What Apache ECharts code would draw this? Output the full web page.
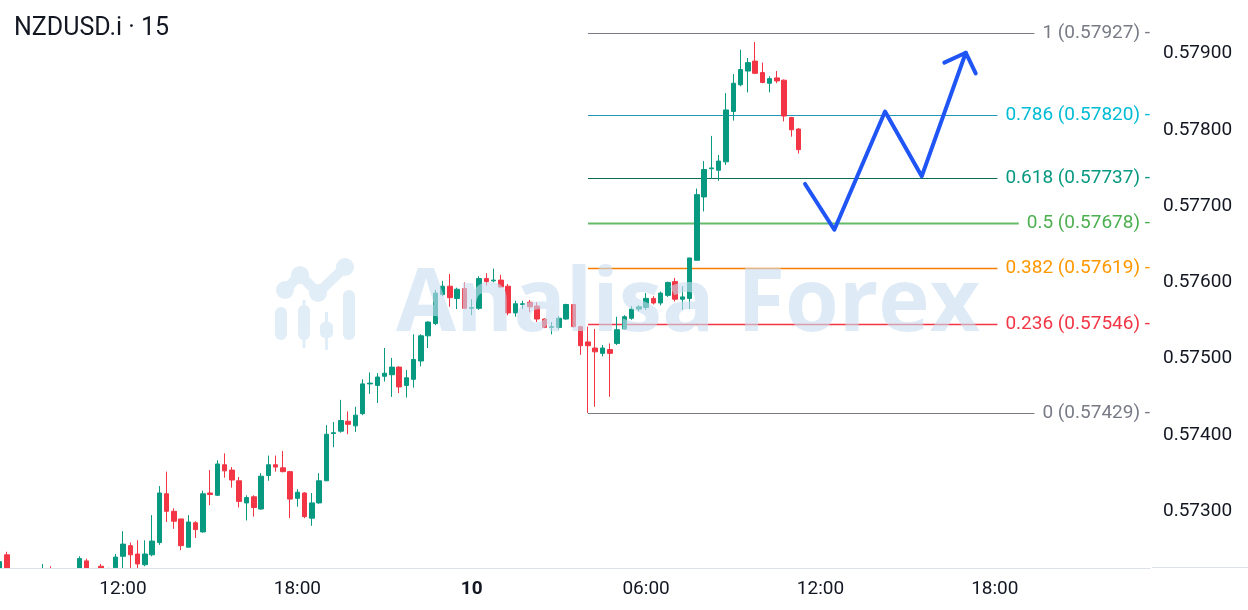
<!DOCTYPE html>
<html>
<head>
<meta charset="utf-8">
<script src="https://cdn.jsdelivr.net/npm/echarts@6/dist/echarts.min.js"></script>
<style>
html,body{margin:0;padding:0;background:#fff;}
#chart{width:1248px;height:610px;}
</style>
</head>
<body>
<div id="chart"></div>
<script>
// 15-minute slot index (0 = 12:00 on the 9th)
const candleN = [
  -17,-16,-15,-14,-13,-12,-11,-10,-9,-8,-7,-6,-5,-4,-3,-2,-1,
  0,1,2,3,4,5,6,7,8,9,10,11,12,13,14,15,16,17,18,19,
  20,21,22,23,24,25,26,27,28,29,30,31,32,33,34,35,36,37,38,39,
  40,41,42,43,44,45,46,47,48,49,50,51,52,53,54,55,56,57,58,59,
  60,61,62,63,64,65,66,67,68,69,70,71,72,73,74,75,76,77,78,79,
  80,81,82,83,84,85,86,87,88,89,90,91,92,93
];
const opens = [
  0.57220,0.57243,0.57215,0.57205,0.57212,0.57206,0.57214,0.57223,0.57214,0.57208,0.57216,0.57220,0.57235,0.57222,0.57228,0.57218,0.57226,
  0.57241,0.57255,0.57244,0.57230,0.57243,0.57259,0.57323,0.57300,0.57290,0.57253,0.57285,0.57273,0.57324,0.57321,0.57361,0.57354,0.57340,0.57311,0.57319,0.57303,
  0.57347,0.57361,0.57357,0.57352,0.57317,0.57324,0.57291,0.57311,0.57340,0.57402,0.57405,0.57418,0.57412,0.57428,0.57467,0.57465,0.57477,0.57479,0.57489,0.57465,
  0.57473,0.57497,0.57530,0.57546,0.57584,0.57595,0.57579,0.57592,0.57566,0.57566,0.57605,0.57602,0.57603,0.57595,0.57560,0.57571,0.57574,0.57569,0.57552,0.57541,
  0.57541,0.57552,0.57571,0.57542,0.57522,0.57514,0.57507,0.57512,0.57520,0.57539,0.57553,0.57565,0.57567,0.57579,0.57573,0.57583,0.57601,0.57578,0.57579,0.57629,
  0.57712,0.57749,0.57747,0.57758,0.57824,0.57859,0.57877,0.57890,0.57875,0.57861,0.57868,0.57865,0.57816,0.57801
];
const closes = [
  0.57234,0.57215,0.57205,0.57212,0.57206,0.57214,0.57224,0.57214,0.57208,0.57216,0.57222,0.57238,0.57222,0.57218,0.57218,0.57224,0.57240,
  0.57257,0.57243,0.57231,0.57244,0.57261,0.57324,0.57300,0.57287,0.57255,0.57286,0.57276,0.57323,0.57322,0.57362,0.57353,0.57341,0.57313,0.57318,0.57305,0.57346,
  0.57361,0.57358,0.57352,0.57316,0.57325,0.57293,0.57311,0.57340,0.57401,0.57403,0.57419,0.57414,0.57426,0.57467,0.57468,0.57476,0.57481,0.57489,0.57463,0.57475,
  0.57499,0.57530,0.57548,0.57586,0.57595,0.57580,0.57591,0.57566,0.57567,0.57605,0.57601,0.57603,0.57594,0.57560,0.57572,0.57572,0.57568,0.57552,0.57541,0.57542,
  0.57553,0.57571,0.57542,0.57517,0.57517,0.57509,0.57514,0.57507,0.57538,0.57555,0.57565,0.57568,0.57579,0.57573,0.57586,0.57600,0.57578,0.57581,0.57632,0.57715,
  0.57748,0.57750,0.57759,0.57826,0.57861,0.57879,0.57888,0.57874,0.57862,0.57867,0.57864,0.57818,0.57800,0.57774
];
const lows = [
  0.57210,0.57205,0.57195,0.57198,0.57200,0.57202,0.57205,0.57208,0.57200,0.57204,0.57210,0.57212,0.57215,0.57210,0.57212,0.57212,0.57212,
  0.57220,0.57222,0.57225,0.57228,0.57241,0.57256,0.57286,0.57277,0.57249,0.57253,0.57265,0.57272,0.57308,0.57320,0.57344,0.57331,0.57305,0.57288,0.57293,0.57302,
  0.57340,0.57352,0.57351,0.57291,0.57306,0.57291,0.57281,0.57310,0.57340,0.57384,0.57403,0.57401,0.57404,0.57426,0.57454,0.57442,0.57470,0.57450,0.57455,0.57449,
  0.57462,0.57490,0.57514,0.57544,0.57582,0.57568,0.57565,0.57565,0.57557,0.57564,0.57596,0.57600,0.57593,0.57557,0.57555,0.57565,0.57561,0.57548,0.57540,0.57532,
  0.57538,0.57551,0.57541,0.57505,0.57429,0.57437,0.57503,0.57450,0.57518,0.57538,0.57551,0.57562,0.57564,0.57571,0.57570,0.57581,0.57575,0.57564,0.57565,0.57629,
  0.57693,0.57736,0.57733,0.57754,0.57812,0.57857,0.57849,0.57873,0.57861,0.57849,0.57861,0.57811,0.57791,0.57769
];
const highs = [
  0.57236,0.57247,0.57220,0.57218,0.57216,0.57220,0.57231,0.57228,0.57218,0.57220,0.57225,0.57241,0.57238,0.57225,0.57231,0.57226,0.57244,
  0.57274,0.57259,0.57262,0.57262,0.57295,0.57333,0.57352,0.57304,0.57290,0.57295,0.57287,0.57327,0.57354,0.57367,0.57376,0.57358,0.57345,0.57321,0.57321,0.57350,
  0.57373,0.57373,0.57379,0.57353,0.57329,0.57325,0.57324,0.57350,0.57413,0.57417,0.57446,0.57431,0.57437,0.57473,0.57482,0.57481,0.57514,0.57501,0.57490,0.57485,
  0.57532,0.57532,0.57549,0.57590,0.57602,0.57611,0.57593,0.57600,0.57578,0.57608,0.57612,0.57618,0.57610,0.57598,0.57576,0.57576,0.57577,0.57574,0.57553,0.57548,
  0.57556,0.57572,0.57572,0.57543,0.57542,0.57539,0.57518,0.57520,0.57555,0.57557,0.57569,0.57570,0.57586,0.57582,0.57588,0.57601,0.57606,0.57595,0.57632,0.57723,
  0.57759,0.57792,0.57767,0.57848,0.57873,0.57905,0.57894,0.57915,0.57888,0.57870,0.57877,0.57866,0.57817,0.57802
];

// Fibonacci retracement levels (anchored at slot 64)
const fibStart = 64;
const fibRatios = [1, 0.786, 0.618, 0.5, 0.382, 0.236, 0];
const fibPrices = [0.57927, 0.57820, 0.57737, 0.57678, 0.57619, 0.57546, 0.57429];

// Projected path drawing (blue arrow)
const arrowN = [93.88, 97.91, 104.89, 109.94, 116.0];
const arrowP = [0.57729, 0.57669, 0.57824, 0.57739, 0.57901];
const arrowHeadN = [113.05, 116.0, 117.37];
const arrowHeadP = [0.57888, 0.57901, 0.57874];

// Axis ticks
const xTickValues = [0, 24, 48, 72, 96, 120];
const xTickLabels = ['12:00', '18:00', '10', '06:00', '12:00', '18:00'];
const yTickValues = [0.573, 0.574, 0.575, 0.576, 0.577, 0.578, 0.579];

const fibLineColors = ['#787b86', '#2196b6', '#0d6b55', '#66bb6a', '#f57c00', '#f23645', '#787b86'];
const fibLineWidths = [1, 1, 1, 2, 1.5, 1.5, 1];
const fibTextColors = ['#787b86', '#00bcd4', '#089981', '#4caf50', '#ff9800', '#f23645', '#787b86'];

const candleData = candleN.map((n, i) => [n, opens[i], closes[i], lows[i], highs[i]]);
const fibData = fibPrices.map((p) => [fibStart, p]);
const arrowData = arrowN.map((n, i) => [n, arrowP[i]]);
const arrowHeadData = arrowHeadN.map((n, i) => [n, arrowHeadP[i]]);

const chart = echarts.init(document.getElementById('chart'));
const FONT = 'Roboto';
const wm = 'rgba(200,222,242,0.6)';
const wmSolid = '#e1edf7';

chart.setOption({
  animation: false,
  backgroundColor: '#ffffff',
  title: {
    text: 'NZDUSD.i · 15',
    left: 9, top: 11,
    textStyle: { fontFamily: FONT, fontSize: 25, fontWeight: 'normal', color: '#131722' }
  },
  grid: { left: 0, right: 98, top: 0, bottom: 42, containLabel: false },
  xAxis: {
    type: 'value',
    z: 10,
    min: -16.93, max: 141.36,
    axisLine: { show: true, onZero: false, lineStyle: { color: '#dde1ea', width: 1 } },
    axisTick: { show: false },
    splitLine: { show: false },
    axisLabel: {
      customValues: xTickValues,
      margin: 12,
      fontFamily: FONT, fontSize: 19, color: '#131722',
      formatter: function (v) {
        const i = xTickValues.indexOf(Math.round(v));
        const t = i >= 0 ? xTickLabels[i] : '';
        return t === '10' ? '{b|10}' : t;
      },
      rich: { b: { fontFamily: FONT, fontSize: 19, fontWeight: 'bold', color: '#131722' } }
    }
  },
  yAxis: {
    type: 'value',
    position: 'right',
    min: 0.572257, max: 0.579701,
    scale: true,
    axisLine: { show: false },
    axisTick: { show: false },
    splitLine: { show: false },
    axisLabel: {
      customValues: yTickValues,
      margin: 13,
      fontFamily: FONT, fontSize: 19, color: '#131722',
      formatter: function (v) { return v.toFixed(5); }
    }
  },
  graphic: [
    // mask below the plot so partially hidden candles are cut at the axis
    { type: 'rect', silent: true, z: 6, shape: { x: 0, y: 568, width: 1248, height: 42 }, style: { fill: '#ffffff' } },
    { type: 'line', silent: true, z: 50, shape: { x1: 1152, y1: 567.5, x2: 1248, y2: 567.5 }, style: { stroke: '#dde1ea', lineWidth: 1 } },
    { type: 'group', silent: true, z: 100, children: [
      { type: 'rect', shape: { x: 275, y: 307, width: 12, height: 33, r: 6 }, style: { fill: wmSolid } },
      { type: 'rect', shape: { x: 298, y: 305, width: 12, height: 35, r: 6 }, style: { fill: wmSolid } },
      { type: 'line', shape: { x1: 304, y1: 300, x2: 304, y2: 348 }, style: { stroke: wmSolid, lineWidth: 3 } },
      { type: 'rect', shape: { x: 320, y: 322, width: 13, height: 16, r: 5 }, style: { fill: wmSolid } },
      { type: 'line', shape: { x1: 326.5, y1: 312, x2: 326.5, y2: 350 }, style: { stroke: wmSolid, lineWidth: 3 } },
      { type: 'rect', shape: { x: 343, y: 290, width: 12, height: 50, r: 6 }, style: { fill: wmSolid } },
      { type: 'polyline', shape: { points: [[285, 290], [300, 275], [318, 293], [345, 267]] }, style: { stroke: wmSolid, lineWidth: 10, fill: null, lineJoin: 'round', lineCap: 'round' } },
      { type: 'circle', shape: { cx: 285, cy: 290, r: 9 }, style: { fill: wmSolid } },
      { type: 'circle', shape: { cx: 300, cy: 275, r: 9 }, style: { fill: wmSolid } },
      { type: 'circle', shape: { cx: 318, cy: 293, r: 9 }, style: { fill: wmSolid } },
      { type: 'circle', shape: { cx: 345, cy: 267, r: 9 }, style: { fill: wmSolid } }
    ]},
    { type: 'text', silent: true, z: 100, style: {
      text: 'Analisa Forex', x: 396, y: 306,
      font: 'bold 87px "Open Sans"', fill: wm, verticalAlign: 'middle', align: 'left'
    }}
  ],
  series: [
    {
      type: 'custom',
      name: 'fib',
      z: 1,
      clip: false,
      data: fibData,
      encode: { x: 0, y: 1 },
      renderItem: function (params, api) {
        const i = params.dataIndex;
        const p0 = api.coord([api.value(0), api.value(1)]);
        const right = params.coordSys.x + params.coordSys.width;
        const y = Math.round(p0[1]) + 0.5;
        const text = String(fibRatios[i]) + ' (' + fibPrices[i].toFixed(5) + ') -';
        return {
          type: 'group',
          children: [
            { type: 'line', shape: { x1: p0[0], y1: y, x2: right - 30, y2: y },
              style: { stroke: fibLineColors[i], lineWidth: fibLineWidths[i] } },
            { type: 'text', style: {
                x: right, y: y, text: text, align: 'right', verticalAlign: 'middle',
                fontFamily: FONT, fontSize: 19, fill: fibTextColors[i],
                backgroundColor: '#ffffff', padding: [2, 0, 2, 8]
            } }
          ]
        };
      }
    },
    {
      type: 'candlestick',
      z: 2,
      barWidth: 5,
      clip: true,
      data: candleData,
      encode: { x: 0, y: [1, 2, 3, 4] },
      itemStyle: {
        color: '#089981', color0: '#f23645',
        borderColor: '#089981', borderColor0: '#f23645', borderWidth: 1
      }
    },
    {
      type: 'line', z: 5, data: arrowData, symbol: 'none', silent: true,
      lineStyle: { color: '#1f55f5', width: 4, cap: 'round', join: 'round' }
    },
    {
      type: 'line', z: 5, data: arrowHeadData, symbol: 'none', silent: true,
      lineStyle: { color: '#1f55f5', width: 4, cap: 'round', join: 'round' }
    }
  ]
});
</script>
</body>
</html>
